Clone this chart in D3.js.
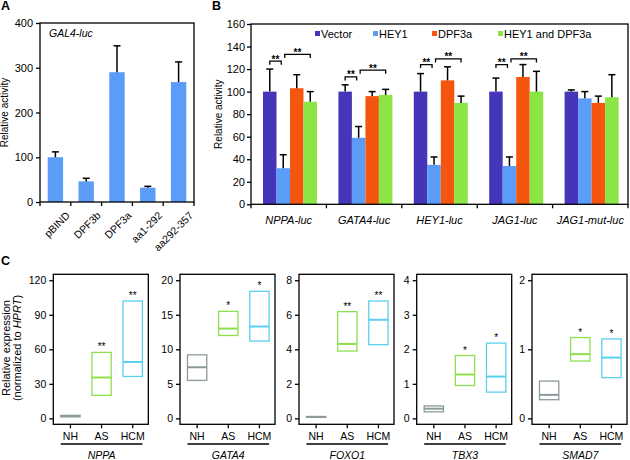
<!DOCTYPE html>
<html><head><meta charset="utf-8">
<script src="https://cdn.jsdelivr.net/npm/d3@7"></script>
<style>body{margin:0;background:#fff} svg{display:block;font-family:Arial,"Liberation Sans",Helvetica,sans-serif}</style>
</head><body><svg id="chart" width="630" height="460"></svg>
<script>
// ---------- Panel A data ----------
const aCategories = ["pBIND", "DPF3b", "DPF3a", "aa1-292", "aa292-357"];
const aValues = [100, 46, 290, 32, 268];
const aErrors = [12, 7, 59, 3, 45];
const aTicks = [0, 100, 200, 300, 400];

// ---------- Panel B data ----------
const bGroups = ["NPPA-luc", "GATA4-luc", "HEY1-luc", "JAG1-luc", "JAG1-mut-luc"];
const bSeries = ["Vector", "HEY1", "DPF3a", "HEY1 and DPF3a"];
const bVector = [100, 100, 100, 100, 100];
const bHEY1 = [32, 59, 35, 34, 94];
const bDPF3a = [103, 96, 110, 113, 90];
const bBoth = [91, 97, 90, 100, 95];
const bVectorErr = [20, 6, 16, 12, 1.5];
const bHEY1Err = [12, 10, 7, 8, 6];
const bDPF3aErr = [12, 4, 12, 11, 6];
const bBothErr = [9, 5, 6, 18, 20];
const bBracketLow = [127, 113, 124, 124];   // Vector vs HEY1
const bBracketHigh = [133, 119, 129, 129];  // HEY1 vs HEY1 and DPF3a
const bTicks = [0, 20, 40, 60, 80, 100, 120, 140, 160];

// ---------- Panel C data ----------
const cGenes = ["NPPA", "GATA4", "FOXO1", "TBX3", "SMAD7"];
const cGroups = ["NH", "AS", "HCM"];
const cMax = [120, 20, 8, 4, 2];
const cTicks = [[0, 30, 60, 90, 120], [0, 5, 10, 15, 20], [0, 2, 4, 6, 8], [0, 1, 2, 3, 4], [0, 1, 2]];
const cLow = [[1.3, 20, 36.4], [5.5, 12, 11.2], [0.06, 3.9, 4.27], [0.19, 0.95, 0.76], [0.27, 0.83, 0.59]];
const cMedian = [[2, 35.5, 49], [7.4, 13, 13.3], [0.08, 4.31, 5.71], [0.28, 1.27, 1.21], [0.34, 0.93, 0.88]];
const cHigh = [[2.6, 57.3, 102], [9.2, 15.5, 18.4], [0.11, 6.18, 6.8], [0.36, 1.82, 2.18], [0.54, 1.17, 1.15]];
const cStars = [["", "**", "**"], ["", "*", "*"], ["", "**", "**"], ["", "*", "*"], ["", "*", "*"]];

// ---------- styles ----------
const colA = "#5A9CF8";
const bColors = ["#4535B8", "#5A9CF8", "#F5560F", "#8BE545"];
const cColors = ["#8C9A9C", "#8EE04E", "#5ACFEF"];
const svg = d3.select("#chart");
const fmt = d3.format("~g");

function styleAxis(g, fs) {
  g.select(".domain").remove();
  g.selectAll(".tick line").attr("stroke", "#000").attr("stroke-width", 1.3);
  g.selectAll(".tick text").attr("fill", "#000").style("font-size", fs + "px").style("font-family", "Arial, 'Liberation Sans', sans-serif");
}

// ================= Panel A =================
(function () {
  const L = 40, R = 194, T = 23, B = 202;
  const x = d3.scaleBand().domain(aCategories).range([L, R]).paddingInner(0.5).paddingOuter(0.25);
  const y = d3.scaleLinear().domain([0, 400]).range([B, T]);
  const g = svg.append("g");
  g.selectAll("rect.bar").data(aCategories).join("rect")
    .attr("x", d => x(d)).attr("width", x.bandwidth())
    .attr("y", (d, i) => y(aValues[i])).attr("height", (d, i) => y(0) - y(aValues[i]))
    .attr("fill", colA);
  aCategories.forEach((d, i) => {
    const cx = x(d) + x.bandwidth() / 2;
    g.append("line").attr("x1", cx).attr("x2", cx).attr("y1", y(aValues[i])).attr("y2", y(aValues[i] + aErrors[i])).attr("stroke", "#000").attr("stroke-width", 1.5);
    g.append("line").attr("x1", cx - 3.5).attr("x2", cx + 3.5).attr("y1", y(aValues[i] + aErrors[i])).attr("y2", y(aValues[i] + aErrors[i])).attr("stroke", "#000").attr("stroke-width", 1.5);
    g.append("text").attr("transform", `translate(${cx + 10},${B + 9}) rotate(-45)`)
      .attr("text-anchor", "end").attr("dy", "0.7em").style("font-size", "10.5px").text(d);
  });
  g.append("rect").attr("x", L).attr("y", T).attr("width", R - L).attr("height", B - T).attr("fill", "none").attr("stroke", "#000").attr("stroke-width", 1.3);
  g.append("g").attr("transform", `translate(${L},0)`).call(d3.axisLeft(y).tickValues(aTicks).tickFormat(fmt).tickSize(4).tickPadding(3)).call(s => styleAxis(s, 11));
  const step = x.step();
  d3.range(aCategories.length + 1).forEach(i => {
    g.append("line").attr("x1", L + i * step).attr("x2", L + i * step).attr("y1", B).attr("y2", B + 4).attr("stroke", "#000").attr("stroke-width", 1.3);
  });
  g.append("text").attr("x", 49).attr("y", 37).style("font-size", "10.5px").style("font-style", "italic").text("GAL4-luc");
  g.append("text").attr("transform", `translate(8,${(T + B) / 2}) rotate(-90)`).attr("text-anchor", "middle").style("font-size", "10px").text("Relative activity");
  svg.append("text").attr("x", 1).attr("y", 10).style("font-size", "12.5px").style("font-weight", "bold").text("A");
})();

// ================= Panel B =================
(function () {
  const L = 251, R = 628, T = 24, B = 204.3;
  const x0 = d3.scaleBand().domain(bGroups).range([L, R]);
  const x1 = d3.scaleBand().domain(bSeries).range([12, 66]);
  const y = d3.scaleLinear().domain([0, 160]).range([B, T]);
  const vals = [bVector, bHEY1, bDPF3a, bBoth];
  const errs = [bVectorErr, bHEY1Err, bDPF3aErr, bBothErr];
  const g = svg.append("g");
  bGroups.forEach((grp, gi) => {
    bSeries.forEach((s, si) => {
      const v = vals[si][gi], e = errs[si][gi];
      const bx = x0(grp) + x1(s);
      g.append("rect").attr("x", bx).attr("width", x1.bandwidth()).attr("y", y(v)).attr("height", y(0) - y(v)).attr("fill", bColors[si]);
      const cx = bx + x1.bandwidth() / 2;
      g.append("line").attr("x1", cx).attr("x2", cx).attr("y1", y(v)).attr("y2", y(v + e)).attr("stroke", "#000").attr("stroke-width", 1.5);
      g.append("line").attr("x1", cx - 3.5).attr("x2", cx + 3.5).attr("y1", y(v + e)).attr("y2", y(v + e)).attr("stroke", "#000").attr("stroke-width", 1.5);
    });
    g.append("text").attr("x", x0(grp) + x0.bandwidth() / 2).attr("y", B + 20).attr("text-anchor", "middle").style("font-size", "11px").style("font-style", "italic").text(grp);
  });
  // significance brackets
  bBracketLow.forEach((lv, gi) => {
    const grp = bGroups[gi];
    const c = s => x0(grp) + x1(s) + x1.bandwidth() / 2;
    const br = (xa, xb, v) => {
      const yy = y(v);
      g.append("path").attr("d", `M${xa},${yy + 3.5}V${yy}H${xb}V${yy + 3.5}`).attr("fill", "none").attr("stroke", "#000").attr("stroke-width", 1.3);
      g.append("text").attr("x", (xa + xb) / 2).attr("y", yy + 1.5).attr("text-anchor", "middle").style("font-size", "10px").style("font-weight", "bold").text("**");
    };
    br(c("Vector"), c("HEY1") - 2, lv);
    br(c("HEY1") + 1.5, c("HEY1 and DPF3a"), bBracketHigh[gi]);
  });
  g.append("rect").attr("x", L).attr("y", T).attr("width", R - L).attr("height", B - T).attr("fill", "none").attr("stroke", "#000").attr("stroke-width", 1.3);
  g.append("g").attr("transform", `translate(${L},0)`).call(d3.axisLeft(y).tickValues(bTicks).tickFormat(fmt).tickSize(4).tickPadding(2)).call(s => styleAxis(s, 11));
  d3.range(bGroups.length + 1).forEach(i => {
    const xx = L + i * x0.step();
    g.append("line").attr("x1", xx).attr("x2", xx).attr("y1", B).attr("y2", B + 4).attr("stroke", "#000").attr("stroke-width", 1.3);
  });
  // legend
  const legX = [315, 373, 432, 498];
  bSeries.forEach((s, i) => {
    g.append("rect").attr("x", legX[i]).attr("y", 31).attr("width", 5).attr("height", 5).attr("fill", bColors[i]);
    g.append("text").attr("x", legX[i] + 6).attr("y", 37.5).style("font-size", "11px").text(s);
  });
  g.append("text").attr("transform", `translate(222,${(T + B) / 2}) rotate(-90)`).attr("text-anchor", "middle").style("font-size", "10px").text("Relative activity");
  svg.append("text").attr("x", 212).attr("y", 10).style("font-size", "12.5px").style("font-weight", "bold").text("B");
})();

// ================= Panel C =================
(function () {
  const lefts = [53.3, 180, 299, 416.7, 532];
  const W = 95, T = 274.3, B = 424.3;
  cGenes.forEach((gene, pi) => {
    const L = lefts[pi];
    const g = svg.append("g");
    const m = cMax[pi];
    const y = d3.scaleLinear().domain([-0.043 * m, 1.043 * m]).range([B, T]);
    const x = d3.scaleLinear().domain([0.45, 3.5]).range([L, L + W]);
    const hw = 0.31;
    cGroups.forEach((grp, gi) => {
      const p = gi + 1;
      const lo = cLow[pi][gi], hi = cHigh[pi][gi], md = cMedian[pi][gi];
      g.append("rect").attr("x", x(p - hw)).attr("width", x(p + hw) - x(p - hw))
        .attr("y", y(hi)).attr("height", Math.max(0.01, y(lo) - y(hi)))
        .attr("fill", "none").attr("stroke", cColors[gi]).attr("stroke-width", 1.3);
      g.append("line").attr("x1", x(p - hw)).attr("x2", x(p + hw)).attr("y1", y(md)).attr("y2", y(md)).attr("stroke", cColors[gi]).attr("stroke-width", 2);
      if (cStars[pi][gi]) {
        g.append("text").attr("x", x(p)).attr("y", y(hi) - 2).attr("text-anchor", "middle").style("font-size", "10px").attr("fill", "#000").text(cStars[pi][gi]);
      }
      g.append("line").attr("x1", x(p)).attr("x2", x(p)).attr("y1", B).attr("y2", B + 4).attr("stroke", "#000").attr("stroke-width", 1.3);
      g.append("text").attr("x", x(p)).attr("y", 440).attr("text-anchor", "middle").style("font-size", "10.5px").text(grp);
    });
    g.append("rect").attr("x", L).attr("y", T).attr("width", W).attr("height", B - T).attr("fill", "none").attr("stroke", "#000").attr("stroke-width", 1.3);
    g.append("g").attr("transform", `translate(${L},0)`).call(d3.axisLeft(y).tickValues(cTicks[pi]).tickFormat(fmt).tickSize(4).tickPadding(3)).call(s => styleAxis(s, 10.5));
    g.append("line").attr("x1", x(1 - hw)).attr("x2", x(3 + hw)).attr("y1", 444).attr("y2", 444).attr("stroke", "#000").attr("stroke-width", 1.3);
    g.append("text").attr("x", x(2)).attr("y", 459).attr("text-anchor", "middle").style("font-size", "10.5px").style("font-style", "italic").text(gene);
  });
  const yl = svg.append("text").attr("transform", `translate(9.5,348) rotate(-90)`).attr("text-anchor", "middle").style("font-size", "11px");
  yl.text("Relative expression");
  const yl2 = svg.append("text").attr("transform", `translate(21,348) rotate(-90)`).attr("text-anchor", "middle").style("font-size", "11px");
  yl2.append("tspan").text("(normalized to ");
  yl2.append("tspan").style("font-style", "italic").text("HPRT");
  yl2.append("tspan").text(")");
  svg.append("text").attr("x", 1).attr("y", 265).style("font-size", "12.5px").style("font-weight", "bold").text("C");
})();
</script></body></html>
